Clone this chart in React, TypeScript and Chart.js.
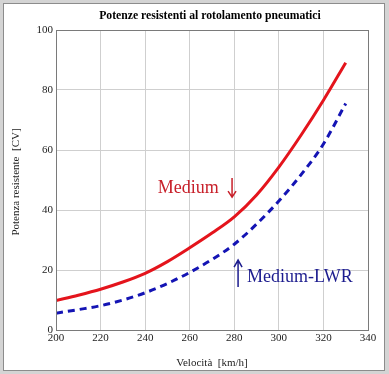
import React, { useEffect, useRef } from "react";
import { Chart, registerables } from "chart.js";

Chart.register(...registerables);

const speeds = [200, 210, 220, 230, 240, 250, 260, 270, 280, 290, 300, 310, 320, 330];
const medium = [9.8, 11.6, 13.6, 16.0, 18.9, 22.8, 27.4, 32.3, 37.7, 45.0, 54.3, 65.0, 76.6, 89.1];
const mediumLWR = [5.6, 6.8, 8.1, 10.0, 12.4, 15.5, 19.2, 23.5, 28.6, 35.3, 43.0, 51.8, 62.0, 75.5];

const titleText = "Potenze resistenti al rotolamento pneumatici";
const xTitle = "Velocità  [km/h]";
const yTitle = "Potenza resistente  [CV]";

const labelMedium = "Medium";
const labelLWR = "Medium-LWR";

const SERIF = '"Liberation Serif", "Times New Roman", serif';

const textPlugin = {
  id: "texts",
  afterDraw(chart: any) {
    const { ctx, chartArea, scales } = chart;
    const xs = scales.x;
    const ys = scales.y;
    const cx = (chartArea.left + chartArea.right) / 2;
    const cy = (chartArea.top + chartArea.bottom) / 2;
    ctx.save();
    // plot frame
    ctx.strokeStyle = "#7a7a7a";
    ctx.lineWidth = 1;
    ctx.strokeRect(
      Math.round(chartArea.left) + 0.5,
      Math.round(chartArea.top) + 0.5,
      Math.round(chartArea.right - chartArea.left),
      Math.round(chartArea.bottom - chartArea.top)
    );
    // title
    ctx.fillStyle = "#000";
    ctx.font = "bold 11.7px " + SERIF;
    ctx.textAlign = "center";
    ctx.textBaseline = "middle";
    ctx.fillText(titleText, cx - 2, 12);
    // x title
    ctx.font = "11px " + SERIF;
    ctx.fillStyle = "#222";
    ctx.fillText(xTitle, cx, 359);
    // y title
    ctx.save();
    ctx.translate(12, cy + 2);
    ctx.rotate(-Math.PI / 2);
    ctx.fillText(yTitle, 0, 0);
    ctx.restore();

    // annotations
    ctx.textBaseline = "alphabetic";
    ctx.font = "18px " + SERIF;
    ctx.fillStyle = "#c8202a";
    ctx.textAlign = "right";
    ctx.fillText(labelMedium, xs.getPixelForValue(273), ys.getPixelForValue(45.7));
    // down arrow
    const ax = xs.getPixelForValue(279);
    const ay0 = ys.getPixelForValue(50.7);
    const ay1 = ys.getPixelForValue(44.3);
    ctx.strokeStyle = "#c8202a";
    ctx.lineWidth = 1.5;
    ctx.beginPath();
    ctx.moveTo(ax, ay0);
    ctx.lineTo(ax, ay1);
    ctx.moveTo(ax - 4, ay1 - 6);
    ctx.lineTo(ax, ay1);
    ctx.lineTo(ax + 4, ay1 - 6);
    ctx.stroke();

    ctx.fillStyle = "#1c1c8e";
    ctx.textAlign = "left";
    ctx.fillText(labelLWR, xs.getPixelForValue(285.7), ys.getPixelForValue(16));
    const bx = xs.getPixelForValue(281.7);
    const by0 = ys.getPixelForValue(14.3);
    const by1 = ys.getPixelForValue(23.3);
    ctx.strokeStyle = "#1c1c8e";
    ctx.beginPath();
    ctx.moveTo(bx, by0);
    ctx.lineTo(bx, by1);
    ctx.moveTo(bx - 4, by1 + 7);
    ctx.lineTo(bx, by1);
    ctx.lineTo(bx + 4, by1 + 7);
    ctx.stroke();
    ctx.restore();
  },
};

export default function App() {
  const ref = useRef<HTMLCanvasElement>(null);
  useEffect(() => {
    if (!ref.current) return;
    const chart = new Chart(ref.current, {
      type: "line",
      data: {
        datasets: [
          {
            label: labelMedium,
            data: speeds.map((s, i) => ({ x: s, y: medium[i] })),
            borderColor: "#e4141c",
            borderWidth: 3,
            pointRadius: 0,
            cubicInterpolationMode: "monotone",
            fill: false,
          },
          {
            label: labelLWR,
            data: speeds.map((s, i) => ({ x: s, y: mediumLWR[i] })),
            borderColor: "#1414b4",
            borderWidth: 3,
            borderDash: [7, 5],
            borderCapStyle: "butt",
            pointRadius: 0,
            cubicInterpolationMode: "monotone",
            fill: false,
          },
        ],
      },
      options: {
        animation: false,
        responsive: false,
        maintainAspectRatio: false,
        layout: { padding: { top: 26, right: 16, left: 0, bottom: 0 } },
        plugins: {
          legend: { display: false },
          title: { display: false },
          tooltip: { enabled: false },
        },
        scales: {
          x: {
            type: "linear",
            min: 200,
            max: 340,
            afterFit: (s: any) => {
              s.height = 40;
            },
            ticks: {
              stepSize: 20,
              padding: 2,
              color: "#222",
              font: { family: SERIF, size: 11 },
              maxRotation: 0,
            },
            grid: { color: "#cfcfcf", drawTicks: false },
            border: { color: "#7a7a7a", width: 1 },
          },
          y: {
            min: 0,
            max: 100,
            afterFit: (s: any) => {
              s.width = 52;
            },
            ticks: {
              stepSize: 20,
              padding: 3,
              color: "#222",
              font: { family: SERIF, size: 11 },
            },
            grid: { color: "#cfcfcf", drawTicks: false },
            border: { color: "#7a7a7a", width: 1 },
          },
        },
      },
      plugins: [textPlugin],
    } as any);
    return () => chart.destroy();
  }, []);

  return (
    <div
      style={{
        position: "fixed",
        left: 0,
        top: 0,
        width: 389,
        height: 374,
        boxSizing: "border-box",
        borderStyle: "solid",
        borderColor: "#d4d4d4",
        borderWidth: "3px 4px 3px 3px",
        background: "#d4d4d4",
      }}
    >
      <div
        style={{
          boxSizing: "border-box",
          width: 382,
          height: 368,
          border: "1px solid #8c8c8c",
          background: "#fff",
        }}
      >
        <canvas ref={ref} width={380} height={366} style={{ display: "block", width: 380, height: 366 }} />
      </div>
    </div>
  );
}
